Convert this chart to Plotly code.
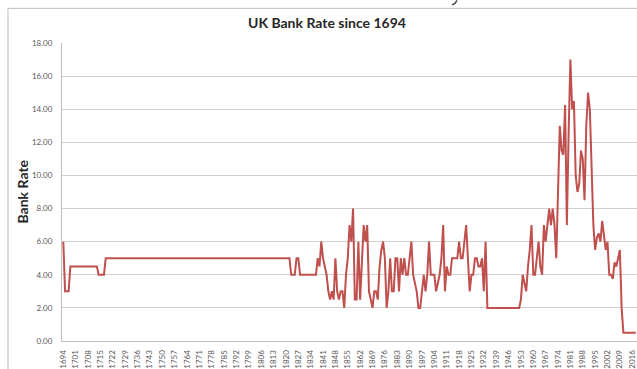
import plotly.graph_objects as go

# Annual UK Bank Rate (%) plotted from 1694 onward
years = list(range(1694, 2019))
bank_rate = [
    6, 3, 3, 3, 4.5, 4.5,                                   # 1694-1699
    4.5, 4.5, 4.5, 4.5, 4.5, 4.5, 4.5, 4.5, 4.5, 4.5,       # 1700s
    4.5, 4.5, 4.5, 4.5, 4, 4, 4, 4, 5, 5,                   # 1710s
    5, 5, 5, 5, 5, 5, 5, 5, 5, 5,                           # 1720s
    5, 5, 5, 5, 5, 5, 5, 5, 5, 5,                           # 1730s
    5, 5, 5, 5, 5, 5, 5, 5, 5, 5,                           # 1740s
    5, 5, 5, 5, 5, 5, 5, 5, 5, 5,                           # 1750s
    5, 5, 5, 5, 5, 5, 5, 5, 5, 5,                           # 1760s
    5, 5, 5, 5, 5, 5, 5, 5, 5, 5,                           # 1770s
    5, 5, 5, 5, 5, 5, 5, 5, 5, 5,                           # 1780s
    5, 5, 5, 5, 5, 5, 5, 5, 5, 5,                           # 1790s
    5, 5, 5, 5, 5, 5, 5, 5, 5, 5,                           # 1800s
    5, 5, 5, 5, 5, 5, 5, 5, 5, 5,                           # 1810s
    5, 5, 5, 4, 4, 4, 5, 5, 4, 4,                           # 1820s
    4, 4, 4, 4, 4, 4, 4, 4, 5, 4.5,                         # 1830s
    6, 5, 4.5, 4, 3, 2.5, 3, 2.5, 5, 3,                     # 1840s
    2.5, 3, 3, 2, 4, 5, 7, 6, 8, 2.5,                       # 1850s
    2.5, 6, 2.5, 5, 7, 6, 7, 3, 2.5, 2,                     # 1860s
    3, 3, 2.5, 4.5, 5.5, 6, 5, 2, 3, 5,                     # 1870s
    3, 3, 5, 5, 3, 5, 4, 5, 4, 4,                           # 1880s
    5, 6, 4, 3.5, 3, 2, 2, 3, 4, 3,                         # 1890s
    4, 6, 4, 4, 4, 3, 3.5, 4, 5, 7,                         # 1900s
    3, 4.5, 4, 4, 5, 5, 5, 5, 6, 5,                         # 1910s
    5, 6, 7, 5, 3, 4, 4, 5, 5, 4.5,                         # 1920s
    4.5, 5, 3, 6, 2, 2, 2, 2, 2, 2,                         # 1930s
    2, 2, 2, 2, 2, 2, 2, 2, 2, 2,                           # 1940s
    2, 2, 2, 2.5, 4, 3.5, 3, 4.5, 5.5, 7,                   # 1950s
    4, 4, 5, 6, 4.5, 4, 7, 6, 7, 8,                         # 1960s
    7, 8, 7, 5, 9, 13, 11.5, 11.25, 14.25, 7,               # 1970s
    12.5, 17, 14, 14.5, 10, 9, 9.5, 11.5, 11, 8.5,          # 1980s
    13, 15, 14, 10.5, 7, 5.5, 6.25, 6.5, 6, 7.25,           # 1990s
    6.25, 5.5, 6, 4, 4, 3.75, 4.75, 4.5, 5, 5.5,            # 2000s
    2, 0.5, 0.5, 0.5, 0.5, 0.5, 0.5, 0.5, 0.5,              # 2010-2018
]

tick_years = list(range(1694, 2017, 7))
tick_labels = [str(y) for y in tick_years]
rate_ticks = [0, 2, 4, 6, 8, 10, 12, 14, 16, 18]

FONT = "Lato"
GRID = "#d0d0d0"
LABEL = "#595959"

fig = go.Figure()
fig.add_trace(go.Scatter(
    x=years, y=bank_rate, mode="lines",
    line=dict(color="#c0504d", width=2),
    hoverinfo="x+y", showlegend=False,
))

W, H = 637, 369
ML, MR, MT, MB = 62, 0, 43, 25
pw, ph = W - ML - MR, H - MT - MB


def px(x):
    return (x - ML) / pw


def py(y):
    return (H - MB - y) / ph


fig.update_layout(
    width=W, height=H,
    margin=dict(l=ML, r=MR, t=MT, b=MB, pad=0),
    paper_bgcolor="white", plot_bgcolor="white",
    font=dict(family=FONT, color=LABEL),
    xaxis=dict(
        range=[1693.26, 2018.7],
        tickmode="array", tickvals=tick_years, ticktext=tick_labels,
        tickangle=-90, tickfont=dict(family=FONT, size=8, color=LABEL),
        showgrid=False, zeroline=False,
        showline=True, linecolor="#bfbfbf", linewidth=1,
        ticks="", ticklabelstandoff=5,
    ),
    yaxis=dict(
        range=[0, 18], tickvals=rate_ticks, tickformat=".2f",
        tickfont=dict(family=FONT, size=8, color=LABEL),
        showgrid=True, gridcolor=GRID, gridwidth=1,
        zeroline=False, showline=True, linecolor="#bfbfbf", linewidth=1,
        ticks="", ticklabelstandoff=7,
    ),
    shapes=[
        # chart area frame
        dict(type="rect", xref="paper", yref="paper",
             x0=px(8), x1=px(W + 10), y0=py(H + 10), y1=py(8),
             line=dict(color="#bdbdbd", width=1), fillcolor="rgba(0,0,0,0)",
             layer="below"),
        # small dark stroke above the frame (edge of a heading outside the chart)
        dict(type="path", xref="paper", yref="paper",
             path=(f"M {px(457)} {py(0)} L {px(455)} {py(3)} "
                   f"L {px(452)} {py(4.5)}"),
             line=dict(color="#444444", width=1.5)),
    ],
    annotations=[
        dict(text="<b>UK Bank Rate since 1694</b>", xref="paper", yref="paper",
             x=px(327), y=py(22), xanchor="center", yanchor="middle",
             showarrow=False, font=dict(family=FONT, size=14, color="#262626")),
        dict(text="<b>Bank Rate</b>", xref="paper", yref="paper",
             x=px(23), y=py(193), xanchor="center", yanchor="middle",
             textangle=-90, showarrow=False,
             font=dict(family=FONT, size=14, color="#262626")),
    ],
)

fig.write_html("out.html")
